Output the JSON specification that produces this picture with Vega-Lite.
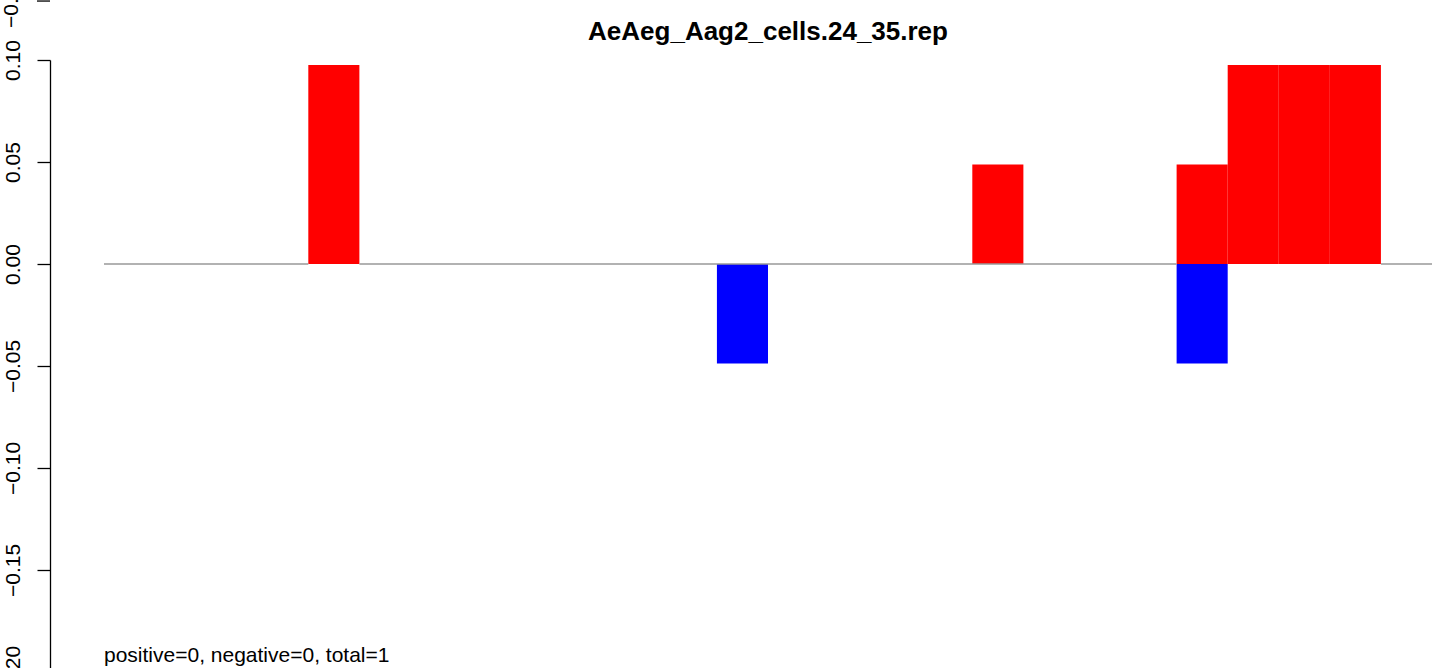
{
  "$schema": "https://vega.github.io/schema/vega-lite/v6.json",
  "width": 1328,
  "height": 612,
  "autosize": {"type": "none"},
  "padding": {"left": 104, "top": 60, "right": 7, "bottom": 0},
  "background": "white",
  "title": {
    "text": "AeAeg_Aag2_cells.24_35.rep",
    "font": "Liberation Sans",
    "fontSize": 26,
    "fontWeight": "bold",
    "color": "black",
    "anchor": "middle",
    "baseline": "bottom",
    "offset": -96
  },
  "config": {
    "view": {"stroke": null},
    "font": "Liberation Sans"
  },
  "datasets": {
    "bars": [
      {"bin": 4, "bin_end": 5, "value": 0.0976, "sign": "pos"},
      {"bin": 12, "bin_end": 13, "value": -0.0488, "sign": "neg"},
      {"bin": 17, "bin_end": 18, "value": 0.0488, "sign": "pos"},
      {"bin": 21, "bin_end": 22, "value": 0.0488, "sign": "pos"},
      {"bin": 21, "bin_end": 22, "value": -0.0488, "sign": "neg"},
      {"bin": 22, "bin_end": 23, "value": 0.0976, "sign": "pos"},
      {"bin": 23, "bin_end": 24, "value": 0.0976, "sign": "pos"},
      {"bin": 24, "bin_end": 25, "value": 0.0976, "sign": "pos"}
    ]
  },
  "layer": [
    {
      "data": {"name": "bars"},
      "mark": {"type": "bar", "strokeWidth": 0},
      "encoding": {
        "x": {"field": "bin", "type": "quantitative", "scale": {"domain": [0, 26], "nice": false, "zero": false}, "axis": null},
        "x2": {"field": "bin_end"},
        "y": {
          "field": "value",
          "type": "quantitative",
          "scale": {"domain": [-0.2, 0.1], "nice": false, "zero": false},
          "axis": {
            "title": null,
            "values": [-0.2, -0.15, -0.1, -0.05, 0, 0.05, 0.1],
            "format": ".2f",
            "grid": false,
            "offset": 54,
            "tickSize": 13,
            "tickWidth": 1.3,
            "tickColor": "black",
            "domainColor": "black",
            "domainWidth": 1.3,
            "labelAngle": 270,
            "labelAlign": "center",
            "labelBaseline": "bottom",
            "labelPadding": 14,
            "labelFont": "Liberation Sans",
            "labelFontSize": 21,
            "labelColor": "black",
            "labelOverlap": false,
            "labelBound": false,
            "labelFlush": false
          }
        },
        "y2": {"datum": 0},
        "color": {"field": "sign", "type": "nominal", "scale": {"domain": ["pos", "neg"], "range": ["#FF0000", "#0000FF"]}, "legend": null}
      }
    },
    {
      "data": {"values": [{"from": 0, "to": 4}, {"from": 5, "to": 21}, {"from": 25, "to": 26}]},
      "mark": {"type": "rule", "color": "#999999", "strokeWidth": 1.5},
      "encoding": {
        "y": {"datum": 0, "type": "quantitative"},
        "x": {"field": "from", "type": "quantitative"},
        "x2": {"field": "to"}
      }
    },
    {
      "data": {"values": [{"label": "positive=0, negative=0, total=1"}]},
      "mark": {"type": "text", "align": "left", "baseline": "alphabetic", "fontSize": 21, "font": "Liberation Sans", "color": "black"},
      "encoding": {
        "x": {"datum": 0, "type": "quantitative"},
        "y": {"datum": -0.1951, "type": "quantitative"},
        "text": {"field": "label"}
      }
    },
    {
      "data": {"values": [{"label": "−0.20"}]},
      "mark": {"type": "text", "angle": 270, "align": "center", "baseline": "bottom", "fontSize": 21, "font": "Liberation Sans", "color": "black"},
      "encoding": {
        "x": {"datum": -1.6, "type": "quantitative"},
        "y": {"datum": 0.1287, "type": "quantitative"},
        "text": {"field": "label"}
      }
    },
    {
      "data": {"values": [{"tick": 0.1289}]},
      "mark": {"type": "rule", "color": "black", "strokeWidth": 1.3},
      "encoding": {
        "x": {"datum": -1.312, "type": "quantitative"},
        "x2": {"datum": -1.057},
        "y": {"field": "tick", "type": "quantitative"}
      }
    }
  ]
}
